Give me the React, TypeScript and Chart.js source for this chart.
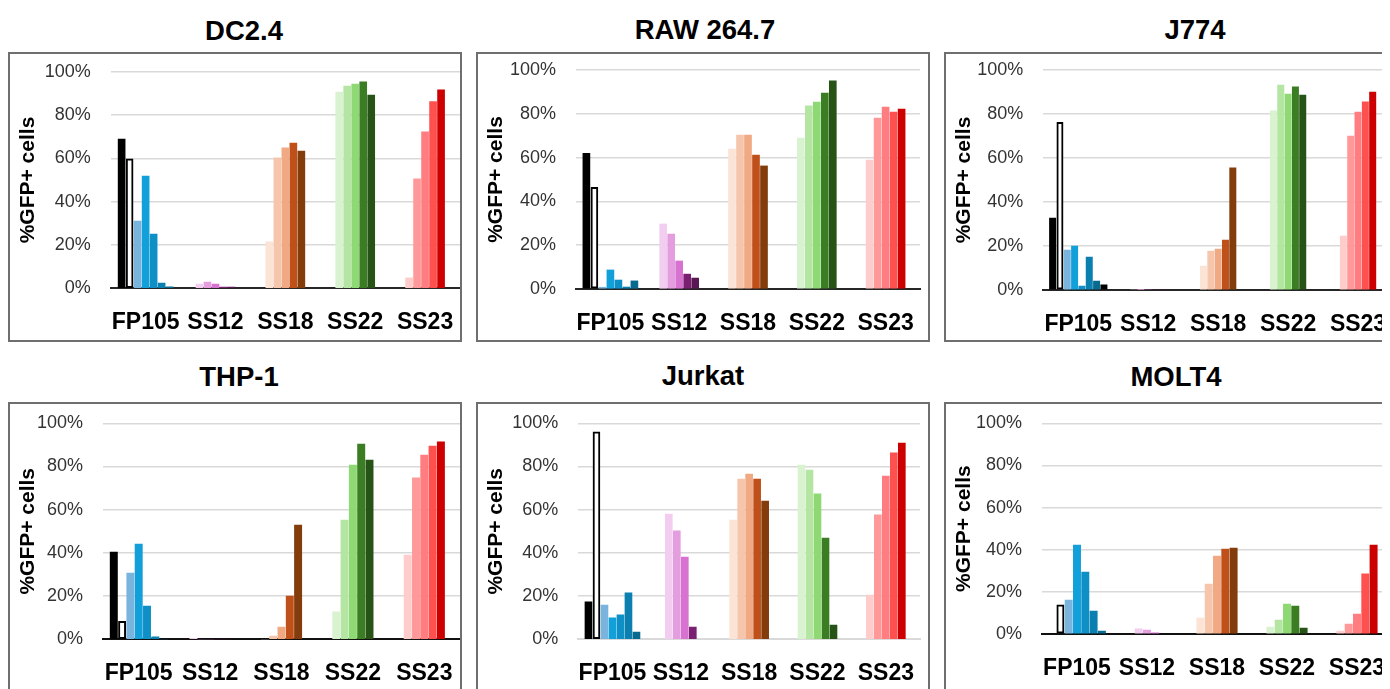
import React, { useEffect, useRef } from "react";
import { Chart, registerables } from "chart.js";

Chart.register(...registerables);

// ---------- data ----------
const categories = ["FP105", "SS12", "SS18", "SS22", "SS23"];
const yTicks = [0, 20, 40, 60, 80, 100];
const yTitle = "%GFP+ cells";
const panelTitles = ["DC2.4", "RAW 264.7", "J774", "THP-1", "Jurkat", "MOLT4"];

// values in %, one inner array per category, bars in slot order
const dc24 = [
  [68.9, 59.8, 31.0, 51.8, 25.0, 2.4, 0.7],
  [2.0, 2.9, 2.0, 0.6, 0.6],
  [21.4, 60.2, 64.8, 67.1, 63.4],
  [90.6, 93.4, 94.3, 95.3, 89.2],
  [4.8, 50.5, 72.2, 86.2, 91.6],
];
const raw2647 = [
  [62.0, 46.4, 0.8, 8.7, 4.1, 0.9, 3.7],
  [29.7, 25.1, 12.8, 6.8, 5.0],
  [63.9, 70.3, 70.3, 61.2, 56.2],
  [68.9, 83.6, 85.4, 89.5, 95.0],
  [58.9, 78.1, 83.1, 80.8, 82.2],
];
const j774 = [
  [32.7, 76.2, 18.2, 20.0, 1.8, 15.0, 4.1, 2.3],
  [0, 0.3, 0, 0, 0],
  [10.9, 17.7, 18.6, 22.7, 55.5],
  [81.4, 93.2, 89.1, 92.3, 88.6],
  [24.5, 70.0, 80.9, 85.5, 90.0],
];
const thp1 = [
  [40.4, 8.3, 30.7, 44.1, 15.4, 1.1, 0],
  [0.5, 0, 0, 0, 0],
  [0, 1.5, 5.7, 20.0, 52.9],
  [12.7, 55.2, 80.7, 90.4, 83.0],
  [39.0, 74.7, 85.3, 89.5, 91.4],
];
const jurkat = [
  [17.3, 96.0, 15.9, 9.9, 11.3, 21.5, 3.4],
  [58.0, 50.2, 38.1, 5.7],
  [55.2, 74.2, 76.5, 74.2, 64.0],
  [80.7, 78.4, 67.3, 46.9, 6.6],
  [20.5, 57.6, 75.6, 86.3, 90.9],
];
const molt4 = [
  [0, 13.8, 16.1, 42.2, 29.4, 10.9, 1.4],
  [2.4, 1.9, 0.5],
  [7.6, 23.7, 37.0, 40.3, 40.8],
  [3.3, 6.6, 14.2, 13.3, 2.8],
  [1.4, 4.7, 9.5, 28.5, 42.2],
];
const panelData = [dc24, raw2647, j774, thp1, jurkat, molt4];

// ---------- colours ----------
const fp105Colors = ["#000000", "#ffffff", "#78b4de", "#12a0da", "#0e90c6", "#0a7fb0", "#076a8e", "#000000"];
const ss12Colors = ["#f2cdef", "#e49ee0", "#d872d0", "#7b1f72", "#5a1852"];
const ss18Colors = ["#fbe3d6", "#f6c6ac", "#f1a983", "#c0501a", "#833c0c"];
const ss22Colors = ["#d9f2d0", "#b4e5a2", "#8ed973", "#3b7d23", "#275317"];
const ss23Colors = ["#ffcccc", "#ff9999", "#ff7c80", "#ff5050", "#cc0000"];
const palettes = [fp105Colors, ss12Colors, ss18Colors, ss22Colors, ss23Colors];

// ---------- layout (page pixel coordinates) ----------
const FONT = "'Liberation Sans', Arial, sans-serif";
const BOX_W = 454;
const BOX_H = 290;
const BORDER = 2;
const layouts = [
  { boxX: 8, boxY: 52, titleX: 244, titleY: 31, plotLeft: 110.7, plotRight: 460, plotTop: 71.7, plotBottom: 288.3, chunk: 8, baseline: "#262626" },
  { boxX: 476, boxY: 52, titleX: 705, titleY: 30, plotLeft: 576, plotRight: 920, plotTop: 70, plotBottom: 289, chunk: 8, baseline: "#262626" },
  { boxX: 944, boxY: 52, titleX: 1195, titleY: 30, plotLeft: 1043.3, plotRight: 1393, plotTop: 70, plotBottom: 290, chunk: 7.33, baseline: "#262626" },
  { boxX: 8, boxY: 402, titleX: 239, titleY: 377, plotLeft: 103, plotRight: 460, plotTop: 423.3, plotBottom: 639.3, chunk: 8.3, baseline: "#111111" },
  { boxX: 476, boxY: 402, titleX: 703, titleY: 376, plotLeft: 578.3, plotRight: 920, plotTop: 423.3, plotBottom: 639.3, chunk: 8, baseline: "#d9d9d9" },
  { boxX: 944, boxY: 402, titleX: 1176, titleY: 377, plotLeft: 1042, plotRight: 1392, plotTop: 423.3, plotBottom: 634, chunk: 8.3, baseline: "#111111" },
];

type Layout = (typeof layouts)[number];

function Panel({ title, data, lay }: { title: string; data: number[][]; lay: Layout }) {
  const ref = useRef<HTMLCanvasElement | null>(null);

  useEffect(() => {
    const canvas = ref.current;
    if (!canvas) return;
    const cw = BOX_W - 2 * BORDER;
    const ch = BOX_H - 2 * BORDER;
    const innerLeft = lay.boxX + BORDER;
    const innerTop = lay.boxY + BORDER;
    const yAxisW = lay.plotLeft - innerLeft;
    const padRight = innerLeft + cw - lay.plotRight;
    const padTop = lay.plotTop - innerTop;
    const xAxisH = innerTop + ch - lay.plotBottom;

    const maxSlots = Math.max(...data.map((g) => g.length));
    const datasets: any[] = [];
    for (let s = 0; s < maxSlots; s++) {
      datasets.push({
        data: categories.map((_, j) => (data[j][s] === undefined ? null : data[j][s])),
        backgroundColor: categories.map((_, j) => palettes[j][s] || "#000"),
        borderColor: "#000000",
        borderWidth: categories.map((_, j) => (j === 0 && s === 1 ? 2 : 0)),
        borderSkipped: false,
        barThickness: lay.chunk,
        maxBarThickness: lay.chunk - 1,
        skipNull: true,
      });
    }

    const chart = new Chart(canvas, {
      type: "bar",
      data: { labels: categories, datasets },
      options: {
        animation: false,
        responsive: false,
        events: [],
        layout: { padding: { left: 0, right: padRight, top: padTop, bottom: 0 } },
        plugins: {
          legend: { display: false },
          tooltip: { enabled: false },
          title: { display: false },
        },
        scales: {
          x: {
            type: "category",
            offset: true,
            z: 1,
            grid: { display: false, drawTicks: false },
            border: { display: true, color: lay.baseline, width: 2 },
            ticks: {
              autoSkip: false,
              maxRotation: 0,
              minRotation: 0,
              padding: 21,
              color: "#000000",
              font: { family: FONT, size: 23, weight: "bold" },
            },
            afterFit: (s: any) => {
              s.height = xAxisH;
              s.paddingLeft = 0;
              s.paddingRight = 0;
            },
          },
          y: {
            min: 0,
            max: 100,
            afterBuildTicks: (s: any) => {
              s.ticks = yTicks.map((v) => ({ value: v }));
            },
            grid: {
              color: (ctx: any) => (ctx.tick && ctx.tick.value === 0 ? "rgba(0,0,0,0)" : "#d9d9d9"),
              lineWidth: 1.5,
              drawTicks: false,
            },
            border: { display: false },
            ticks: {
              padding: 20,
              color: "#333333",
              font: { family: FONT, size: 18 },
              callback: (v: any) => `${v}%`,
            },
            title: {
              display: true,
              text: yTitle,
              color: "#000000",
              font: { family: FONT, size: 21, weight: "bold" },
              padding: { top: 6, bottom: 0 },
            },
            afterFit: (s: any) => {
              s.width = yAxisW;
              s.paddingTop = 0;
              s.paddingBottom = 0;
            },
          },
        },
      } as any,
    });
    return () => chart.destroy();
  }, [data, lay]);

  return (
    <>
      <div
        style={{
          position: "absolute",
          left: lay.titleX - 8,
          top: lay.titleY - 8 - 14,
          transform: "translateX(-50%)",
          fontFamily: FONT,
          fontWeight: "bold",
          fontSize: 27.5,
          lineHeight: "28px",
          whiteSpace: "nowrap",
          color: "#000",
        }}
      >
        {title}
      </div>
      <div
        style={{
          position: "absolute",
          left: lay.boxX - 8,
          top: lay.boxY - 8,
          width: BOX_W,
          height: BOX_H,
          boxSizing: "border-box",
          border: `${BORDER}px solid #6f6f6f`,
          background: "#ffffff",
        }}
      >
        <canvas
          ref={ref}
          width={BOX_W - 2 * BORDER}
          height={BOX_H - 2 * BORDER}
          style={{ display: "block", width: BOX_W - 2 * BORDER, height: BOX_H - 2 * BORDER }}
        />
      </div>
    </>
  );
}

export default function App() {
  useEffect(() => {
    document.body.style.overflow = "hidden";
    document.documentElement.style.overflow = "hidden";
  }, []);
  return (
    <div style={{ position: "relative", width: 1382, height: 681, overflow: "hidden", background: "#fff" }}>
      {panelTitles.map((t, i) => (
        <Panel key={t} title={t} data={panelData[i]} lay={layouts[i]} />
      ))}
    </div>
  );
}
